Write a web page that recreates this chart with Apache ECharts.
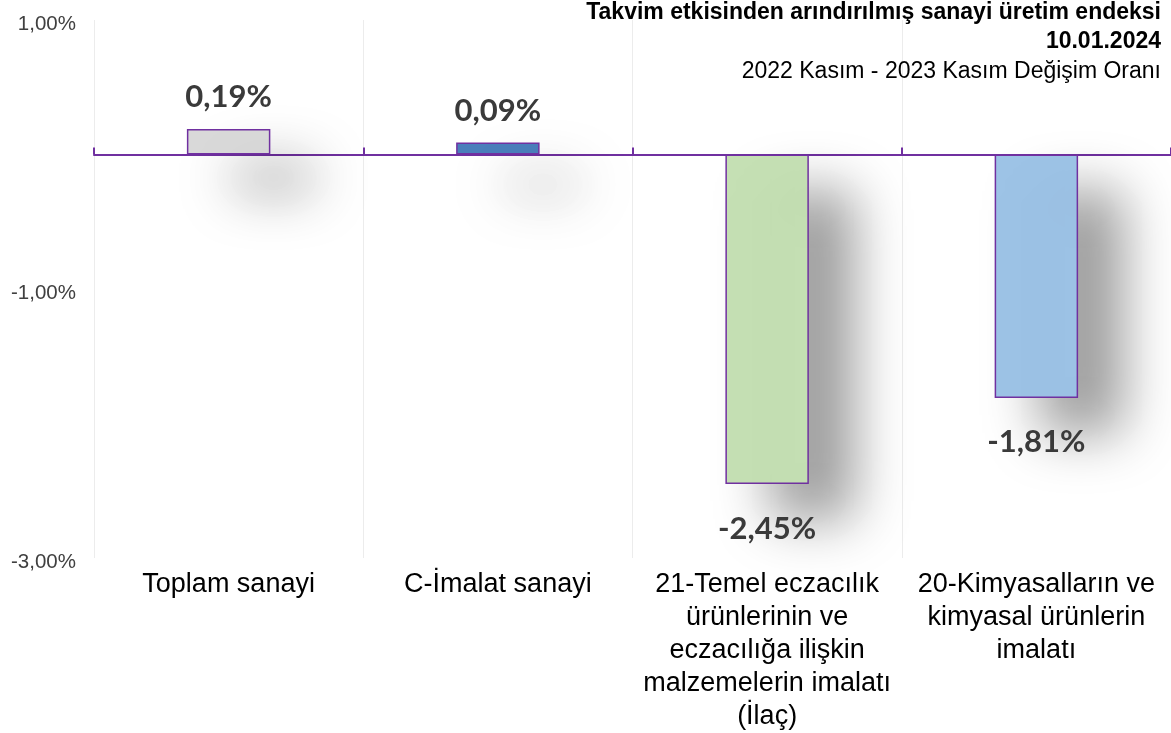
<!DOCTYPE html>
<html>
<head>
<meta charset="utf-8">
<script src="https://cdn.jsdelivr.net/npm/echarts@6/dist/echarts.min.js"></script>
<style>
  html, body { margin: 0; padding: 0; background: #fff; }
  #chart { width: 1171px; height: 733px; }
</style>
</head>
<body>
<div id="chart"></div>
<script>
let categories = [
  "Toplam sanayi",
  "C-İmalat sanayi",
  "21-Temel eczacılık\nürünlerinin ve\neczacılığa ilişkin\nmalzemelerin imalatı\n(İlaç)",
  "20-Kimyasalların ve\nkimyasal ürünlerin\nimalatı"
];
let values = [0.19, 0.09, -2.45, -1.81];
let barColors = ["#d9d9d9", "#4a7ebb", "#c5e0b4", "#9dc3e6"];

let titleLines = [
  "Takvim etkisinden arındırılmış sanayi üretim endeksi",
  "10.01.2024",
  "2022 Kasım - 2023 Kasım Değişim Oranı"
];

function fmt(v) {
  return v.toFixed(2).replace(".", ",") + "%";
}

let myChart = echarts.init(document.getElementById("chart"), null, { renderer: "canvas" });

let titleY = [13, 42, 72];
let titleBold = [true, true, false];

let option = {
  animation: false,
  graphic: titleLines.map(function (t, i) {
    return {
      type: "text",
      z: 100,
      style: {
        text: t,
        x: 1161,
        y: titleY[i],
        align: "right",
        verticalAlign: "middle",
        fontFamily: "Liberation Sans",
        fontWeight: titleBold[i] ? "bold" : "normal",
        fontSize: 23,
        fill: "#000"
      }
    };
  }),
  grid: { left: 94, right: 0, top: 20, bottom: 173 },
  xAxis: [
    {
      type: "category",
      data: categories,
      position: "bottom",
      axisLine: { show: false, onZero: false },
      axisTick: { show: false },
      splitLine: { show: true, lineStyle: { color: "#ececec", width: 1 } },
      axisLabel: {
        interval: 0,
        margin: 10,
        fontFamily: "Liberation Sans",
        fontSize: 27,
        lineHeight: 33,
        color: "#000"
      }
    },
    {
      type: "category",
      data: categories,
      position: "bottom",
      axisLine: { show: true, onZero: true, lineStyle: { color: "#7030a0", width: 2 } },
      axisTick: { show: true, inside: true, length: 7, lineStyle: { color: "#7030a0", width: 2 } },
      axisLabel: { show: false },
      splitLine: { show: false }
    }
  ],
  yAxis: {
    type: "value",
    min: -3,
    max: 1,
    interval: 2,
    axisLine: { show: false },
    axisTick: { show: false },
    splitLine: { show: false },
    axisLabel: {
      formatter: fmt,
      fontFamily: "Liberation Sans",
      fontSize: 20.5,
      color: "#404040",
      margin: 18,
      verticalAlign: "top",
      lineHeight: 8
    }
  },
  series: [
    {
      type: "bar",
      xAxisIndex: 1,
      barWidth: "31%",
      data: values.map(function (v, i) {
        return {
          value: v,
          itemStyle: { color: barColors[i] },
          label: { position: v >= 0 ? "top" : "bottom", distance: v >= 0 ? 16 : 29 }
        };
      }),
      itemStyle: {
        borderColor: "#7030a0",
        borderWidth: 1.5,
        shadowBlur: 55,
        shadowColor: "rgba(0,0,0,0.4)",
        shadowOffsetX: 45,
        shadowOffsetY: 36
      },
      label: {
        show: true,
        formatter: function (p) { return fmt(p.value); },
        fontFamily: "Lato",
        fontWeight: "bold",
        fontSize: 31,
        color: "#3a3a3a"
      }
    }
  ]
};

myChart.setOption(option);
window.addEventListener("resize", myChart.resize);
</script>
</body>
</html>
